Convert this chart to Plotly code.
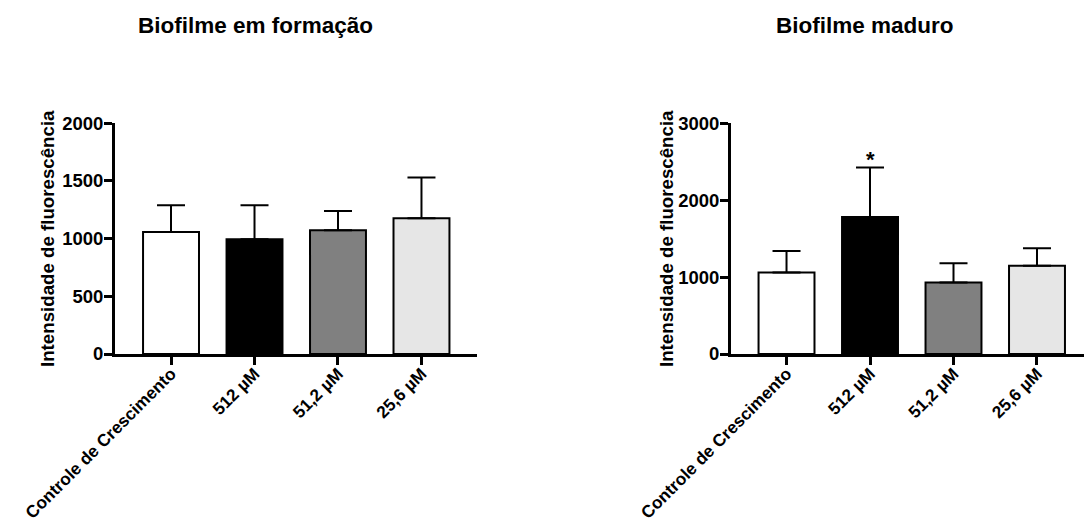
import plotly.graph_objects as go

categories = ["Controle de Crescimento", "512 µM", "51,2 µM", "25,6 µM"]
colors = ["#ffffff", "#000000", "#808080", "#e6e6e6"]

form_mean = [1057, 994, 1072, 1177]
form_sd = [233, 296, 168, 353]

mad_mean = [1060, 1781, 930, 1146]
mad_sd = [281, 644, 251, 230]

title_left = "Biofilme em formação"
title_right = "Biofilme maduro"
ytitle = "Intensidade de fluorescência"

W, H = 1084, 521
FONT = "Arial, 'Liberation Sans', sans-serif"

def px_x(p):
    return p / W

def px_y(p):
    return 1 - p / H

fig = go.Figure()

for i, (mean, sd) in enumerate([(form_mean, form_sd), (mad_mean, mad_sd)]):
    fig.add_trace(go.Bar(
        x=categories, y=mean,
        xaxis="x" if i == 0 else "x2",
        yaxis="y" if i == 0 else "y2",
        width=0.67,
        marker=dict(color=colors, line=dict(color="black", width=2)),
        error_y=dict(type="data", array=sd, symmetric=False,
                     arrayminus=[0] * len(sd), color="black",
                     thickness=2, width=14),
        showlegend=False,
    ))

axis_common = dict(showline=True, linewidth=3, linecolor="black",
                   ticks="outside", ticklen=8, tickwidth=3, tickcolor="black",
                   showgrid=False, zeroline=False, automargin=False)
xfont = dict(family=FONT, size=17.2, color="black", weight="bold")
yfont = dict(family=FONT, size=18.5, color="black", weight="bold")

ydom = [px_y(354), px_y(123.3)]
fig.update_layout(
    template="none",
    width=W, height=H,
    margin=dict(l=0, r=0, t=0, b=0),
    paper_bgcolor="white", plot_bgcolor="white",
    xaxis=dict(domain=[px_x(115), px_x(477)], range=[-0.671, 3.665],
               anchor="y", tickangle=-45, tickfont=xfont,
               ticklabelstandoff=-8, **axis_common),
    yaxis=dict(domain=ydom, range=[0, 2000], anchor="x",
               tickvals=[0, 500, 1000, 1500, 2000], tickfont=yfont,
               ticklabelstandoff=-3, **axis_common),
    xaxis2=dict(domain=[px_x(731), 1.0], range=[-0.665, 3.563],
                anchor="y2", tickangle=-45, tickfont=xfont,
                ticklabelstandoff=-8, **axis_common),
    yaxis2=dict(domain=ydom, range=[0, 3000], anchor="x2",
                tickvals=[0, 1000, 2000, 3000], tickfont=yfont,
                ticklabelstandoff=-3, **axis_common),
)

anns = [
    dict(text=title_left, x=px_x(255.5), y=px_y(25), xref="paper", yref="paper",
         xanchor="center", yanchor="middle", showarrow=False,
         font=dict(family=FONT, size=22.5, color="black", weight="bold")),
    dict(text=title_right, x=px_x(865), y=px_y(25), xref="paper", yref="paper",
         xanchor="center", yanchor="middle", showarrow=False,
         font=dict(family=FONT, size=22.5, color="black", weight="bold")),
    dict(text=ytitle, x=px_x(47), y=px_y(239), xref="paper", yref="paper",
         xanchor="center", yanchor="middle", showarrow=False, textangle=-90,
         font=dict(family=FONT, size=18.7, color="black", weight="bold")),
    dict(text=ytitle, x=px_x(666), y=px_y(239), xref="paper", yref="paper",
         xanchor="center", yanchor="middle", showarrow=False, textangle=-90,
         font=dict(family=FONT, size=18.7, color="black", weight="bold")),
    dict(text="*", x=categories[1], y=mad_mean[1] + mad_sd[1], xref="x2", yref="y2",
         xanchor="center", yanchor="bottom", yshift=-6, showarrow=False,
         font=dict(family=FONT, size=22, color="black", weight="bold")),
]
fig.update_layout(annotations=anns)

fig.write_html("out.html", config={"displayModeBar": False},
               post_script="document.body.style.margin='0';document.body.style.overflow='hidden';")
